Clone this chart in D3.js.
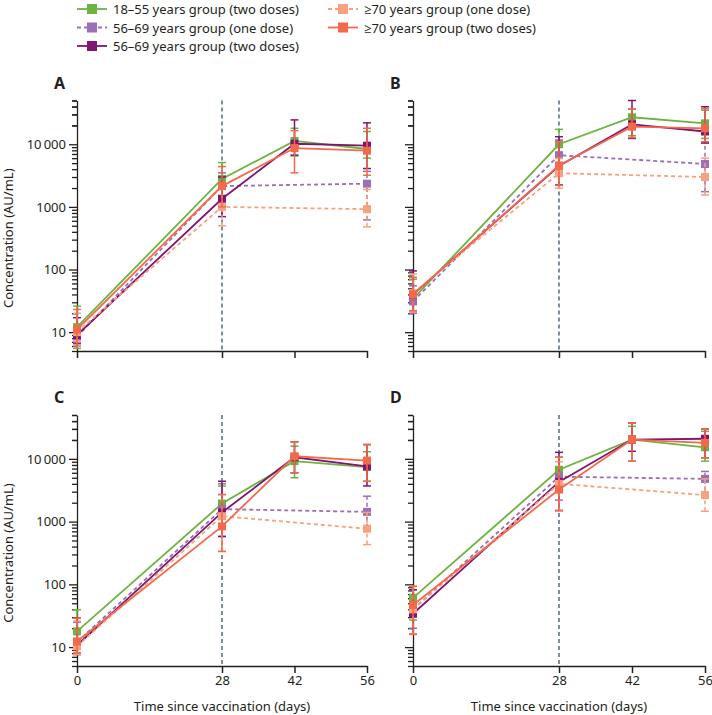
<!DOCTYPE html>
<html>
<head>
<meta charset="utf-8">
<script src="https://cdn.jsdelivr.net/npm/d3@7"></script>
<style>
  body { margin: 0; background: #fff; }
  svg text { font-family: "Noto Sans", "Open Sans", sans-serif; fill: #231f20; }
</style>
</head>
<body>
<div id="chart"></div>
<script>
// days sampled
const days = [0, 28, 42, 56];

// series (legend order)
const seriesNames = [
  "18\u201355 years group (two doses)",
  "56\u201369 years group (one dose)",
  "56\u201369 years group (two doses)",
  "\u226570 years group (one dose)",
  "\u226570 years group (two doses)"
];
const seriesColors = ["#6db33f", "#9a6fb5", "#7e1673", "#f9a07e", "#f4694a"];
const seriesDashed = [false, true, false, true, false];

// geometric means per panel, one row per series, columns = days (null = not measured)
const meanA = [[12, 2800, 11300, 8400], [8.5, 2150, null, 2350], [9, 1350, 10200, 9500], [10, 1000, null, 920], [11, 2150, 8700, 7900]];
const lowA  = [[5.5, 1500, 6500, 6000], [6.5, 1300, null, 620], [6.7, 700, 6700, 4100], [7, 500, null, 480], [6, 1000, 3500, 3200]];
const highA = [[26, 5100, 18000, 16000], [12, 3500, null, 3700], [17, 3000, 24500, 22000], [20, 2000, null, 1900], [23, 4400, 16500, 18000]];

const meanB = [[34, 10000, 27000, 21600], [31, 6700, null, 4850], [40, 4500, 20800, 16000], [42, 3450, null, 3000], [40, 4600, 19100, 18000]];
const lowB  = [[20, 5000, 13700, 12400], [20, 3500, null, 1750], [22, 2240, 12400, 10500], [21, 1990, null, 1550], [22, 2200, 12800, 11000]];
const highB = [[70, 17300, 36500, 35000], [55, 11700, null, 10500], [95, 13200, 50000, 39700], [85, 6000, null, 6000], [75, 11000, 36500, 37000]];

const meanC = [[17.8, 1940, 9200, 7400], [12, 1580, null, 1430], [10.7, 1400, 10600, 7600], [10.3, 1220, null, 770], [12.3, 840, 11000, 9400]];
const lowC  = [[8, 900, 5000, 4400], [8, 580, null, 800], [7.6, 580, 6000, 3700], [7.6, 335, null, 430], [8, 335, 6000, 4400]];
const highC = [[39.5, 3700, 15900, 13000], [25, 4000, null, 2540], [29, 4400, 18700, 16900], [26, 2700, null, 1400], [29, 2700, 18700, 16900]];

const meanD = [[61, 6700, 20300, 15300], [40, 5200, null, 4800], [34, 4300, 20300, 20900], [40, 4000, null, 2650], [47, 3240, 20300, 18000]];
const lowD  = [[27, 3300, 9200, 9200], [20, 2200, null, 2400], [16, 1500, 13200, 10400], [16, 1500, null, 1460], [16, 1500, 9200, 10400]];
const highD = [[93, 10600, 33000, 27500], [82, 10600, null, 6300], [82, 12700, 37500, 30000], [93, 9000, null, 4800], [93, 10600, 37500, 30000]];

// y ticks
const majorTicks = [10, 100, 1000, 10000];
const minorTicks = d3.range(1, 5).flatMap(e => d3.range(1, 10).map(m => m * Math.pow(10, e)))
  .concat([5, 6, 7, 8, 9, 20000, 30000, 40000, 50000])
  .filter(v => v >= 5 && v <= 50000 && !majorTicks.includes(v));

const svg = d3.select("#chart").append("svg")
  .attr("width", 712).attr("height", 715);

const panels = [
  { label: "A", mean: meanA, low: lowA, high: highA, xr: [77, 367], yr: [351, 100.5], left: true, bottom: false },
  { label: "B", mean: meanB, low: lowB, high: highB, xr: [413, 705], yr: [351, 100.5], left: false, bottom: false },
  { label: "C", mean: meanC, low: lowC, high: highC, xr: [77, 367], yr: [666, 415], left: true, bottom: true },
  { label: "D", mean: meanD, low: lowD, high: highD, xr: [413, 705], yr: [666, 415], left: false, bottom: true }
];

const fmtY = v => v === 10000 ? "10\u2009000" : String(v);

panels.forEach(p => {
  const x = d3.scaleLinear().domain([0, 56]).range(p.xr);
  const y = d3.scaleLog().domain([5, 50000]).range(p.yr);
  const g = svg.append("g");

  // minor ticks
  g.append("g")
    .attr("transform", `translate(${p.xr[0]},0)`)
    .call(d3.axisLeft(y).tickValues(minorTicks).tickSize(5).tickSizeOuter(0).tickFormat(""))
    .call(a => a.select(".domain").remove());
  // major ticks + labels
  const ya = g.append("g")
    .attr("transform", `translate(${p.xr[0]},0)`)
    .call(d3.axisLeft(y).tickValues(majorTicks).tickSize(8).tickSizeOuter(0)
      .tickFormat(p.left ? fmtY : ""));
  ya.selectAll("text").attr("font-size", 13).attr("x", -11);
  g.selectAll(".tick line, .domain").attr("stroke", "#231f20").attr("stroke-width", 1.3);

  // x axis
  const xa = g.append("g")
    .attr("transform", `translate(0,${p.yr[0]})`)
    .call(d3.axisBottom(x).tickValues(days).tickSize(7).tickSizeOuter(0)
      .tickFormat(p.bottom ? d3.format("d") : ""));
  xa.selectAll("text").attr("font-size", 13).attr("y", 10);
  xa.selectAll(".tick line, .domain").attr("stroke", "#231f20").attr("stroke-width", 1.5);

  // panel letter
  g.append("text")
    .attr("x", p.xr[0] - 23).attr("y", p.yr[1] - 12)
    .attr("font-size", 16).attr("font-weight", "bold")
    .text(p.label);

  // vertical dashed line at day 28
  g.append("line")
    .attr("x1", x(28)).attr("x2", x(28))
    .attr("y1", p.yr[1]).attr("y2", p.yr[0])
    .attr("stroke", "#4a6f80").attr("stroke-width", 1.5)
    .attr("stroke-dasharray", "4,3");

  if (p.left) {
    g.append("text")
      .attr("transform", `translate(13,${y(316)}) rotate(-90)`)
      .attr("text-anchor", "middle").attr("font-size", 13)
      .text("Concentration (AU/mL)");
  }
  if (p.bottom) {
    g.append("text")
      .attr("x", (p.xr[0] + p.xr[1]) / 2).attr("y", 711)
      .attr("text-anchor", "middle").attr("font-size", 13)
      .text("Time since vaccination (days)");
  }

  // series
  seriesNames.forEach((name, i) => {
    const pts = days.map((d, j) => ({ d, m: p.mean[i][j], lo: p.low[i][j], hi: p.high[i][j] }))
      .filter(o => o.m != null);
    const color = seriesColors[i];
    const dash = seriesDashed[i] ? "4,3" : null;
    const sg = g.append("g");

    // error bars
    const eb = sg.selectAll(".eb").data(pts).join("g");
    eb.append("line")
      .attr("x1", o => x(o.d)).attr("x2", o => x(o.d))
      .attr("y1", o => y(o.lo)).attr("y2", o => y(o.hi))
      .attr("stroke", color).attr("stroke-width", 1.5)
      .attr("stroke-dasharray", dash);
    ["lo", "hi"].forEach(k => {
      eb.append("line")
        .attr("x1", o => x(o.d) - 4).attr("x2", o => x(o.d) + 4)
        .attr("y1", o => y(o[k])).attr("y2", o => y(o[k]))
        .attr("stroke", color).attr("stroke-width", 1.5);
    });

    sg.append("path")
      .datum(pts)
      .attr("fill", "none")
      .attr("stroke", color).attr("stroke-width", 1.8)
      .attr("stroke-dasharray", dash)
      .attr("d", d3.line().x(o => x(o.d)).y(o => y(o.m)));

    sg.selectAll(".pt").data(pts).join("rect")
      .attr("x", o => x(o.d) - 4).attr("y", o => y(o.m) - 4)
      .attr("width", 8).attr("height", 8)
      .attr("fill", color);
  });
});

// legend
const legendPos = [[77, 9], [77, 27.5], [77, 46], [328, 9], [328, 27.5]];
seriesNames.forEach((name, i) => {
  const [lx, ly] = legendPos[i];
  const lg = svg.append("g").attr("transform", `translate(${lx},${ly})`);
  lg.append("line").attr("x1", 0).attr("x2", 30).attr("y1", 0).attr("y2", 0)
    .attr("stroke", seriesColors[i]).attr("stroke-width", 1.8)
    .attr("stroke-dasharray", seriesDashed[i] ? "4,3" : null);
  lg.append("rect").attr("x", 10).attr("y", -5).attr("width", 10).attr("height", 10)
    .attr("fill", seriesColors[i]);
  lg.append("text").attr("x", 36).attr("y", 5).attr("font-size", 13).text(name);
});
</script>
</body>
</html>
